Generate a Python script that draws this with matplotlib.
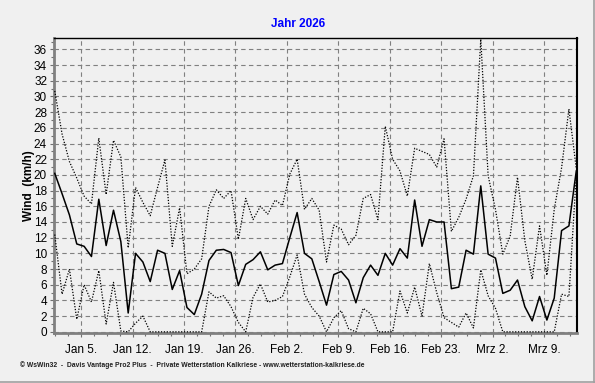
import numpy as np
import matplotlib.pyplot as plt
from matplotlib.lines import Line2D

# ------------------------------------------------------------
# Daten: Tageswerte Wind (km/h), 1. Jan bis 13. Mrz
# ------------------------------------------------------------
wind_mean = [20.2, 17.6, 14.9, 11.2, 10.9, 9.6, 16.9, 11.0, 15.5, 11.5,
             2.4, 10.0, 8.9, 6.4, 10.4, 10.0, 5.4, 7.8, 3.1, 2.2,
             4.8, 9.1, 10.4, 10.5, 10.1, 5.9, 8.6, 9.2, 10.2, 7.9,
             8.5, 8.7, 12.0, 15.2, 10.0, 9.3, 6.4, 3.4, 7.3, 7.7,
             6.6, 3.7, 6.9, 8.5, 7.2, 10.0, 8.5, 10.6, 9.4, 16.8,
             10.9, 14.3, 14.0, 14.0, 5.5, 5.7, 10.4, 9.9, 18.6, 9.9,
             9.4, 4.9, 5.3, 6.6, 3.2, 1.4, 4.5, 1.5, 4.3, 12.9,
             13.5, 20.5]
wind_max = [30.7, 25.2, 21.7, 19.6, 17.3, 16.3, 24.7, 17.5, 24.4, 22.3,
            10.7, 18.4, 16.5, 14.8, 18.4, 21.9, 10.9, 15.8, 7.4, 8.0,
            9.3, 16.0, 18.1, 17.0, 18.0, 11.8, 17.0, 14.3, 16.0, 15.0,
            16.8, 16.1, 20.1, 22.0, 15.6, 17.0, 15.5, 8.9, 13.6, 13.1,
            11.1, 12.3, 17.0, 17.5, 14.3, 26.2, 22.0, 20.5, 17.3, 23.4,
            23.0, 22.6, 21.0, 24.6, 12.8, 14.6, 16.9, 19.9, 37.3, 19.9,
            15.6, 9.9, 12.2, 19.7, 11.6, 6.7, 13.5, 7.2, 15.6, 20.9,
            28.4, 20.8]
wind_min = [12.4, 4.8, 8.0, 1.6, 6.0, 3.8, 7.8, 1.0, 6.3, 0.1,
            0.0, 1.1, 2.0, 0.0, 0.0, 0.0, 0.0, 0.0, 0.0, 0.0,
            0.0, 5.1, 4.3, 4.6, 3.2, 1.2, 0.0, 4.4, 6.1, 3.8,
            4.0, 4.5, 7.0, 9.8, 4.8, 3.1, 2.0, 0.0, 1.8, 2.7,
            0.4, 0.0, 3.0, 2.3, 0.0, 0.0, 0.0, 5.2, 2.4, 5.7,
            2.0, 8.7, 5.0, 1.8, 1.2, 0.6, 2.4, 0.5, 7.9, 4.6,
            3.0, 0.0, 0.0, 0.0, 0.0, 0.0, 0.0, 0.0, 0.0, 4.8,
            4.5, 20.0]
week_labels = ["Jan 5.", "Jan 12.", "Jan 19.", "Jan 26.", "Feb 2.",
               "Feb 9.", "Feb 16.", "Feb 23.", "Mrz 2.", "Mrz 9."]

BG = '#f0f0f0'
plt.rcParams['font.family'] = ['Liberation Sans', 'DejaVu Sans']

W, H = 595, 383
fig = plt.figure(figsize=(W / 100, H / 100), dpi=100, facecolor=BG)
# Achsenbereich in Pixeln: links 54, rechts 577, oben 38, unten 333
ax = fig.add_axes([54 / W, 1 - 333 / H, (577 - 54) / W, (333 - 38) / H])
ax.set_facecolor(BG)

x = np.arange(len(wind_mean))
ax.plot(x, wind_max, color='black', lw=0.9, ls=(0, (1, 1.3)), zorder=3)
ax.plot(x, wind_min, color='black', lw=0.9, ls=(0, (1, 1.3)), zorder=3)
ax.plot(x, wind_mean, color='black', lw=1.1, zorder=4)

ax.set_xlim(-0.1, 71.1)
ax.set_ylim(-0.15, 37.45)

major_x = 3.6 + 7 * np.arange(len(week_labels))
ax.set_xticks(major_x)
ax.set_xticklabels(week_labels, fontsize=8.5)
ax.set_xticks(np.arange(0.1, 71.1, 1.75), minor=True)
ax.set_yticks(np.arange(0, 37, 2))
ax.set_yticks(np.arange(0, 38, 1), minor=True)
ax.tick_params(axis='y', labelsize=8.5)

ax.tick_params(which='both', direction='out', color='#707070', width=0.8)
ax.tick_params(which='major', length=3, pad=2)
ax.tick_params(which='minor', length=2)
ax.tick_params(axis='x', pad=5)

ax.grid(True, which='major', color='#808080', ls=(0, (4, 3)), lw=0.8)
ax.set_axisbelow(True)

for side in ['left', 'bottom']:
    ax.spines[side].set_color('#808080')
    ax.spines[side].set_linewidth(2.0)
ax.spines['top'].set_color('black')
ax.spines['top'].set_linewidth(1.0)
ax.spines['right'].set_color('black')
ax.spines['right'].set_linewidth(1.5)

ax.set_ylabel('Wind  (km/h)', fontsize=8.5, fontweight='bold', labelpad=-1)

fig.text(298 / W, 1 - 24 / H, 'Jahr 2026', color='#0000ff', fontsize=8.5,
         fontweight='bold', ha='center', va='center')

fig.text(20 / W, 1 - 365 / H,
         '\u00a9 WsWin32  -  Davis Vantage Pro2 Plus  -  Private Wetterstation Kalkriese - www.wetterstation-kalkriese.de',
         fontsize=4.85, fontweight='bold', ha='left', va='center', color='#202020')

# Rahmen rechts und unten
fig.add_artist(Line2D([0, 1], [0.8 / H, 0.8 / H], color='#a0a0a0', lw=1.2))
fig.add_artist(Line2D([1 - 1.2 / W, 1 - 1.2 / W], [0, 1], color='#a0a0a0', lw=1.2))

fig.savefig('out.png', dpi=100, facecolor=BG)
